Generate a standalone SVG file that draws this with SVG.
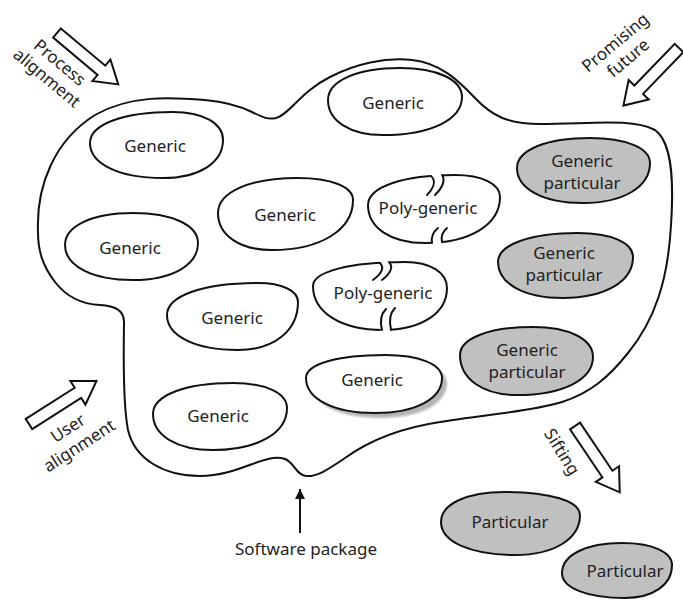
<svg xmlns="http://www.w3.org/2000/svg" width="683" height="600" viewBox="0 0 683 600">
  <style>
    .blob { fill: #ffffff; stroke: #111111; stroke-width: 2; stroke-linejoin: round; }
    .gray { fill: #c0c0c0; }
    .edge { fill: none; stroke: #111111; stroke-width: 2; stroke-linecap: round; }
    .cover { fill: #ffffff; stroke: none; }
    .lbl { font-family: "Noto Sans", "Open Sans", "DejaVu Sans", sans-serif; font-size: 17px; fill: #222222; text-anchor: middle; }
    .block { fill: #ffffff; stroke: #111111; stroke-width: 2; stroke-linejoin: miter; }
    .pkg { fill: #ffffff; stroke: #111111; stroke-width: 2; }
  </style>
  <defs>
    <!-- hollow block arrow, tail at origin, pointing along +x -->
    <polygon id="blockArrow" class="block" points="0,-6 58,-6 58,-14 80,0 58,14 58,6 0,6"/>
    <marker id="headFilled" viewBox="0 0 10 10" refX="10" refY="5" markerWidth="10" markerHeight="10" markerUnits="userSpaceOnUse" orient="auto">
      <path d="M0,0 L10,5 L0,10 Z" fill="#111111"/>
    </marker>
    <filter id="soft" x="-10%" y="-10%" width="130%" height="130%">
      <feGaussianBlur stdDeviation="1.2"/>
    </filter>
  </defs>

  <!-- software package boundary -->
  <g id="package">
    <path class="pkg" d="M 38,232
      C 36,185 55,140 95,115
      C 130,95 170,97 205,100
      C 225,102 240,106 252,112
      C 262,117 268,120 276,118
      C 290,114 300,92 330,77
      C 355,64 385,57 412,60
      C 440,63 458,80 475,98
      C 492,116 508,124 540,124
      C 590,124 632,118 655,130
      C 672,142 674,180 671,225
      C 668,280 655,320 628,353
      C 608,378 590,393 562,402
      C 530,412 480,415 440,422
      C 400,428 370,440 345,458
      C 330,468 318,477 306,476
      C 296,475 294,462 285,459
      C 265,452 240,476 200,476
      C 165,476 135,460 128,430
      C 122,400 124,340 124,322
      C 124,310 115,306 100,305
      C 80,304 65,295 55,282
      C 42,265 38,250 38,232 Z"/>
  </g>

  <g id="generic-top">
    <path class="blob" d="M 328,100 C 328,80.8 356.8,68 400,68 C 437.2,68 462,79.6 462,97 C 462,119.8 430.4,135 383,135 C 350,135 328,121 328,100 Z"/>
    <text class="lbl" x="393" y="109">Generic</text>
  </g>

  <g id="generic-upper-left">
    <path class="blob" d="M 90,143 C 90,124.4 123.2,112 173,112 C 203,112 223,123.2 223,140 C 223,162.8 199,178 163,178 C 119.2,178 90,164 90,143 Z"/>
    <text class="lbl" x="155" y="152">Generic</text>
  </g>

  <g id="generic-left">
    <path class="blob" d="M 65,245 C 65,225.8 92.2,213 133,213 C 172,213 198,225 198,243 C 198,265.2 172,280 133,280 C 92.2,280 65,266 65,245 Z"/>
    <text class="lbl" x="130" y="254">Generic</text>
  </g>

  <g id="generic-center">
    <path class="blob" d="M 218,213 C 218,192 250,178 298,178 C 331,178 353,186.8 353,200 C 353,230 320.6,250 272,250 C 239.6,250 218,235.2 218,213 Z"/>
    <text class="lbl" x="285" y="221">Generic</text>
  </g>

  <g id="poly-generic-upper">
    <path class="blob" d="M 368,205 C 368,187 402.8,175 455,175 C 482,175 500,183.8 500,197 C 500,224.6 470,243 425,243 C 390.8,243 368,227.8 368,205 Z"/>
    <path class="cover" d="M 431,171 L 432,177 C 436,182 433,189 427,195 L 435,195 C 441,189 446,181 442,175 L 442,171 Z"/>
    <path class="cover" d="M 438,228 C 433,232 431,237 432,245 L 442,245 C 441,237 442,232 447,228 Z"/>
    <path class="edge" d="M 432,177 C 436,182 433,189 427,195"/>
    <path class="edge" d="M 442,175 C 446,181 441,189 435,195"/>
    <path class="edge" d="M 438,228 C 433,232 431,237 432,243"/>
    <path class="edge" d="M 447,228 C 442,232 441,237 442,242"/>
    <text class="lbl" x="428" y="214">Poly-generic</text>
  </g>

  <g id="poly-generic-lower">
    <path class="blob" d="M 313,286 C 313,271.6 349.8,262 405,262 C 430.2,262 447,272.4 447,288 C 447,313.2 421.4,330 383,330 C 341,330 313,312.4 313,286 Z"/>
    <path class="cover" d="M 379,259 L 380,263 C 385,268 381,274 373,280 L 382,280 C 390,274 394,267 389,262 L 389,259 Z"/>
    <path class="cover" d="M 386,309 C 381,314 380,322 381,333 L 392,333 C 389,321 390,313 395,308 Z"/>
    <path class="edge" d="M 380,263 C 385,268 381,274 373,280"/>
    <path class="edge" d="M 389,262 C 394,267 390,274 382,280"/>
    <path class="edge" d="M 386,309 C 381,314 380,322 382,330"/>
    <path class="edge" d="M 395,308 C 390,313 389,321 391,330"/>
    <text class="lbl" x="383" y="299">Poly-generic</text>
  </g>

  <g id="generic-mid-left">
    <path class="blob" d="M 167,315 C 167,295.8 203.4,283 258,283 C 282,283 298,290.6 298,302 C 298,330.8 274,350 238,350 C 195.4,350 167,336 167,315 Z"/>
    <text class="lbl" x="232" y="324">Generic</text>
  </g>

  <g id="generic-shadowed">
    <path d="M 306,378 C 306,364.2 337.6,355 385,355 C 419.2,355 442,364.2 442,378 C 442,399 415.2,413 375,413 C 333.6,413 306,399 306,378 Z" fill="#b4b4b4" transform="translate(5,5)" filter="url(#soft)"/>
    <path class="blob" d="M 306,378 C 306,364.2 337.6,355 385,355 C 419.2,355 442,364.2 442,378 C 442,399 415.2,413 375,413 C 333.6,413 306,399 306,378 Z"/>
    <text class="lbl" x="372" y="386">Generic</text>
  </g>

  <g id="generic-bottom-left">
    <path class="blob" d="M 153,414 C 153,395.4 185,383 233,383 C 265.4,383 287,393 287,408 C 287,433.2 257.4,450 213,450 C 177,450 153,435.6 153,414 Z"/>
    <text class="lbl" x="218" y="422">Generic</text>
  </g>

  <g id="generic-particular-1">
    <path class="blob gray" d="M 517,168 C 517,150 546.2,138 590,138 C 626,138 650,148 650,163 C 650,187 623.2,203 583,203 C 543.4,203 517,189 517,168 Z"/>
    <text class="lbl" x="582" y="167">Generic</text>
    <text class="lbl" x="582" y="189">particular</text>
  </g>

  <g id="generic-particular-2">
    <path class="blob gray" d="M 498,262 C 498,244.6 530,233 578,233 C 611,233 633,242.6 633,257 C 633,281.6 605,298 563,298 C 524,298 498,283.6 498,262 Z"/>
    <text class="lbl" x="564" y="259">Generic</text>
    <text class="lbl" x="564" y="281">particular</text>
  </g>

  <g id="generic-particular-3">
    <path class="blob gray" d="M 460,355 C 460,338.2 489.2,327 533,327 C 569,327 593,339 593,357 C 593,379.8 562.6,395 517,395 C 482.8,395 460,379 460,355 Z"/>
    <text class="lbl" x="527" y="356">Generic</text>
    <text class="lbl" x="527" y="378">particular</text>
  </g>

  <g id="particular-1">
    <path class="blob gray" d="M 441,522 C 441,504 466.6,492 505,492 C 550,492 580,501.2 580,515 C 580,539 554,555 515,555 C 470.6,555 441,541.8 441,522 Z"/>
    <text class="lbl" x="510" y="528">Particular</text>
  </g>

  <g id="particular-2">
    <path class="blob gray" d="M 562,573 C 562,555 586,543 622,543 C 652,543 672,551.8 672,565 C 672,584.8 653.2,598 625,598 C 587.2,598 562,588 562,573 Z"/>
    <text class="lbl" x="625" y="577">Particular</text>
  </g>

  <!-- flow arrows and their captions -->
  <g id="connectors">
    <use href="#blockArrow" transform="translate(57,33) rotate(40)"/>
    <use href="#blockArrow" transform="translate(679,48) rotate(134)"/>
    <use href="#blockArrow" transform="translate(29,424) rotate(-32.5)"/>
    <use href="#blockArrow" transform="translate(575,426) rotate(56)"/>
    <line x1="300" y1="533" x2="300" y2="489" stroke="#111111" stroke-width="2" marker-end="url(#headFilled)"/>
  </g>

  <g id="captions">
    <g transform="translate(56,67) rotate(40)">
      <text class="lbl" x="0" y="0">Process</text>
      <text class="lbl" x="0" y="20">alignment</text>
    </g>
    <g transform="translate(619,47) rotate(-40)">
      <text class="lbl" x="0" y="0">Promising</text>
      <text class="lbl" x="0" y="20">future</text>
    </g>
    <g transform="translate(71,433) rotate(-33)">
      <text class="lbl" x="0" y="0">User</text>
      <text class="lbl" x="0" y="21">alignment</text>
    </g>
    <g transform="translate(557,455) rotate(58)">
      <text class="lbl" x="0" y="0">Sifting</text>
    </g>
    <text class="lbl" x="306" y="555">Software package</text>
  </g>
</svg>
